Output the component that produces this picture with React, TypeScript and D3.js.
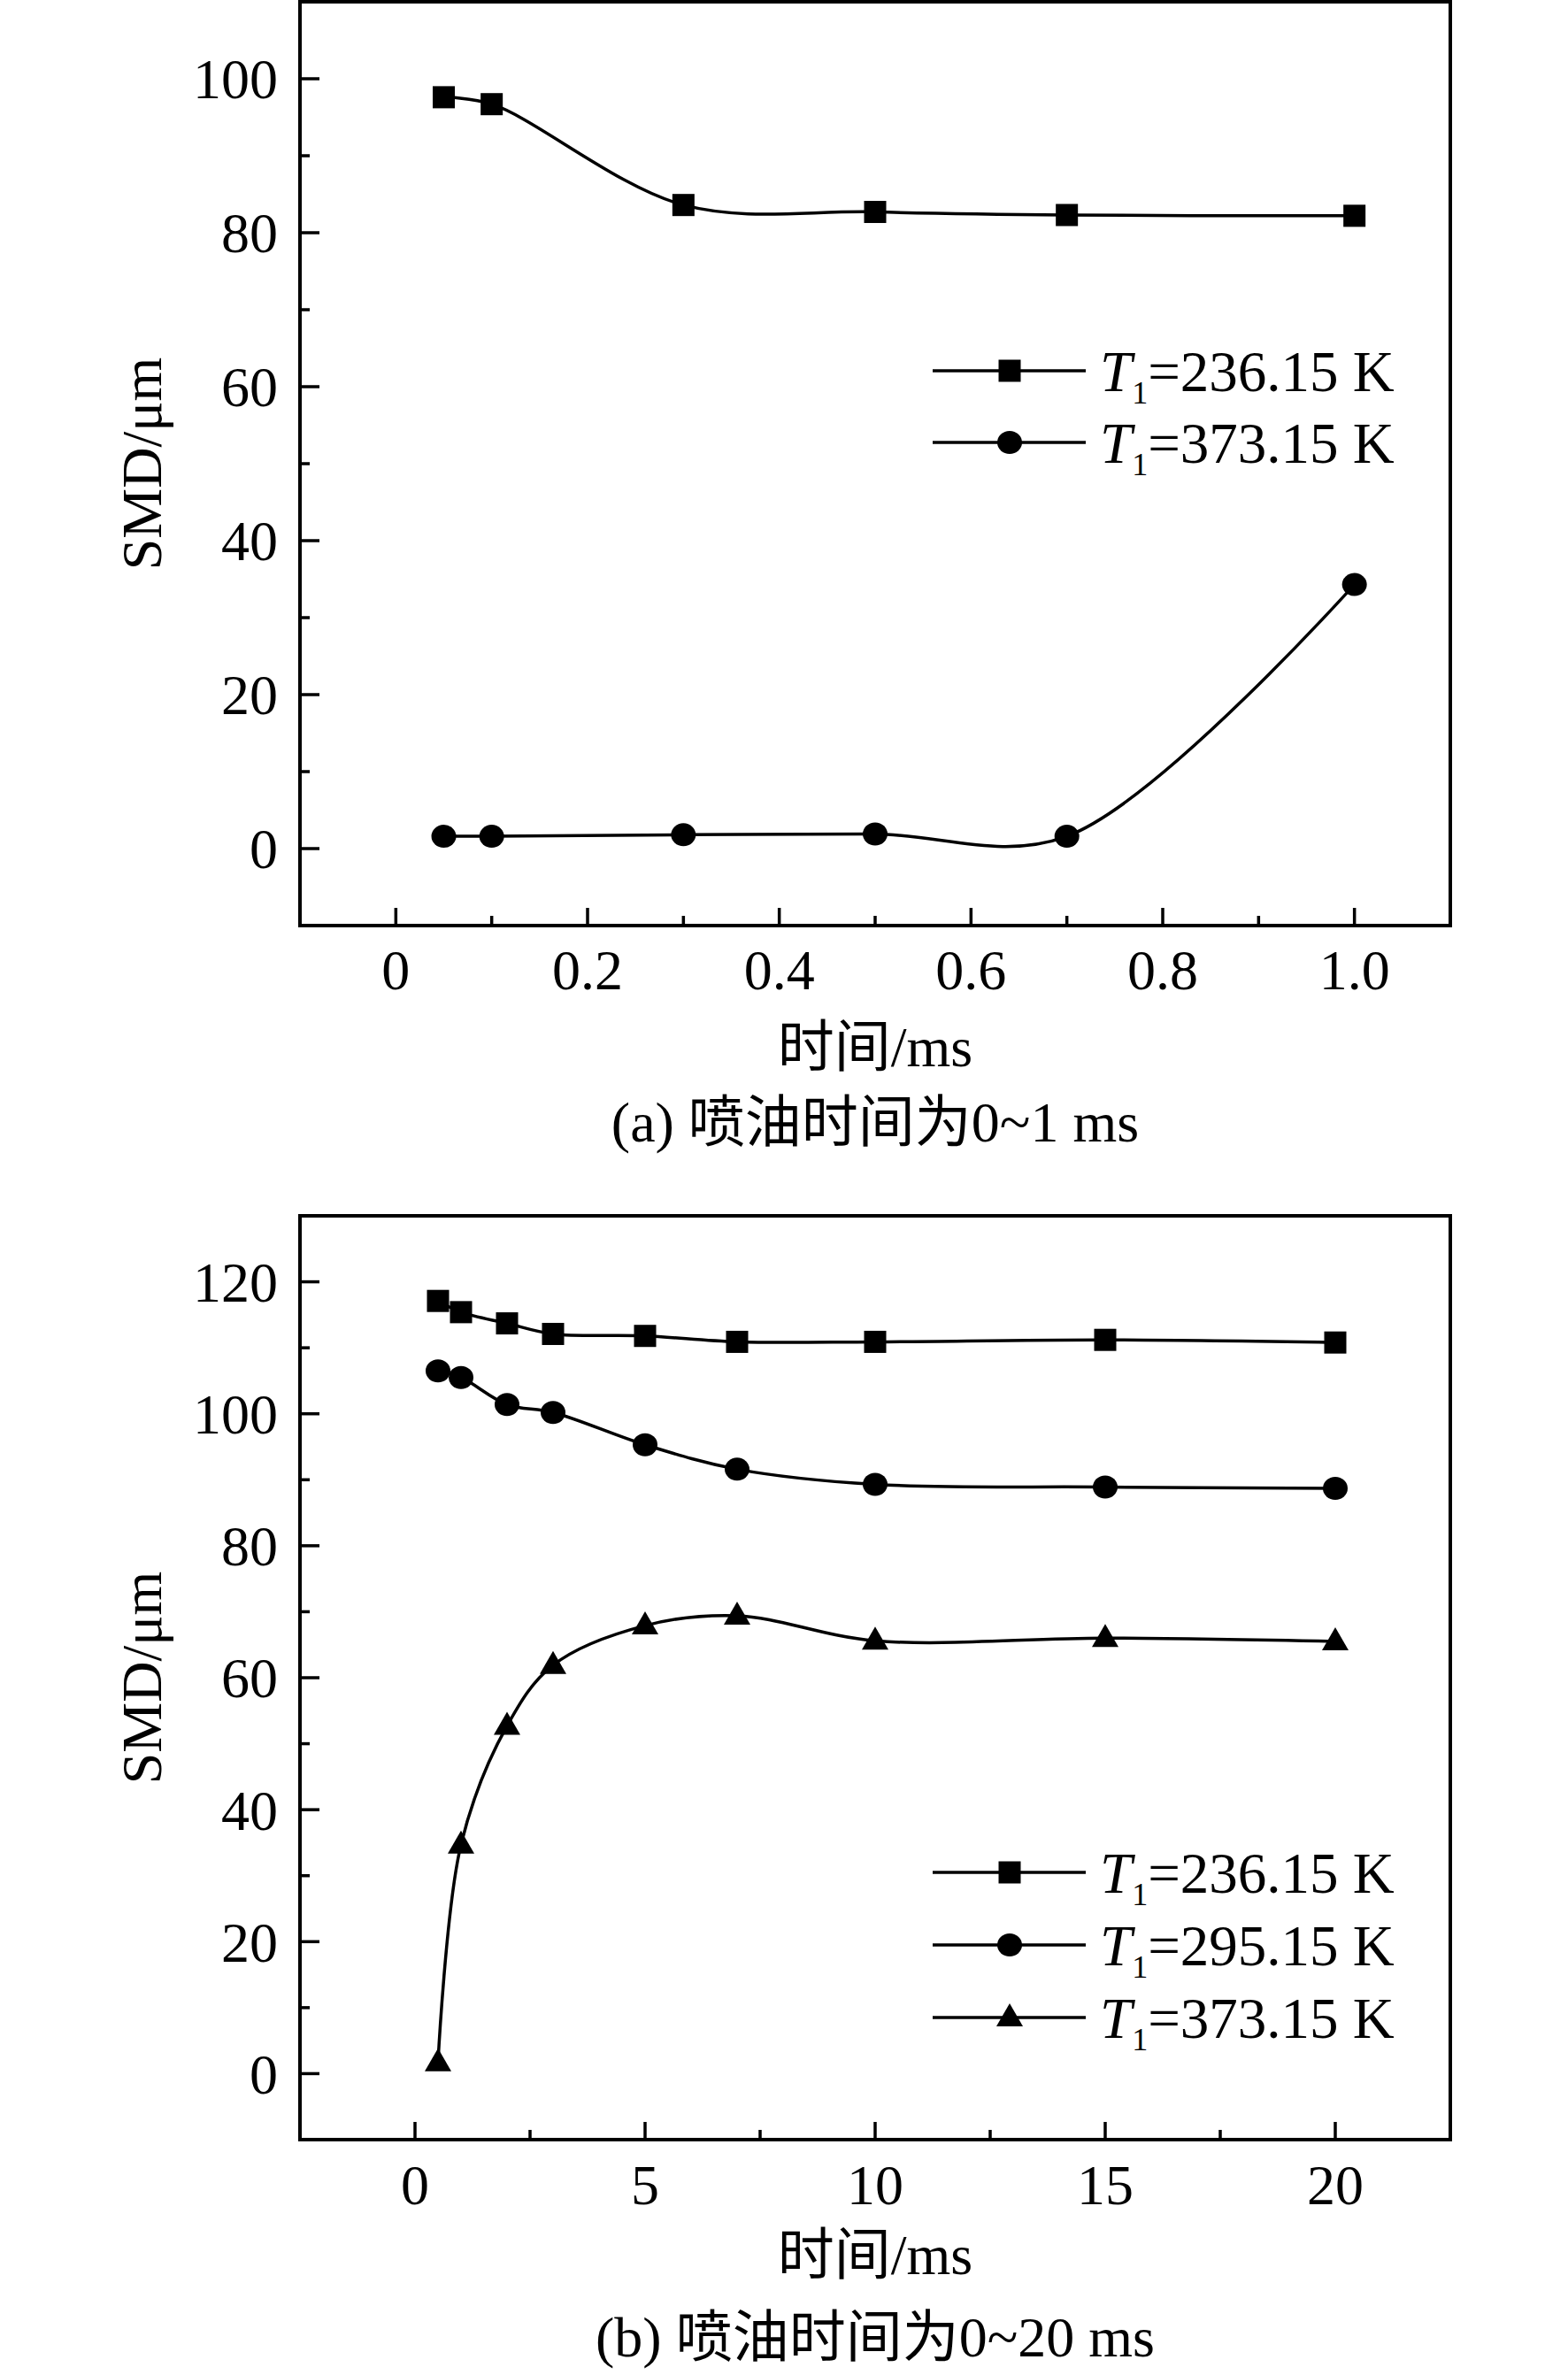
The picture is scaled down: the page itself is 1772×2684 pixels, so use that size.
import React from "react";
import * as d3 from "d3";

// panel (a): injection time 0~1 ms
const X_A = [0.05, 0.1, 0.3, 0.5, 0.7, 1.0];
const A_T236 = [97.6, 96.7, 83.6, 82.7, 82.3, 82.2];
const A_T373 = [1.6, 1.6, 1.8, 1.9, 1.6, 34.3];
const A_X_TICKS = [0, 0.2, 0.4, 0.6, 0.8, 1.0];
const A_X_LABELS = ["0", "0.2", "0.4", "0.6", "0.8", "1.0"];
const A_X_MINOR = [0.1, 0.3, 0.5, 0.7, 0.9];
const A_Y_TICKS = [0, 20, 40, 60, 80, 100];
const A_Y_MINOR = [10, 30, 50, 70, 90];

// panel (b): injection time 0~20 ms
const X_B = [0.5, 1, 2, 3, 5, 7, 10, 15, 20];
const B_T236 = [117.1, 115.4, 113.7, 112.1, 111.8, 110.9, 110.9, 111.2, 110.8];
const B_T295 = [106.5, 105.5, 101.4, 100.2, 95.3, 91.6, 89.3, 88.9, 88.7];
const B_T373 = [1.7, 34.7, 52.7, 61.9, 67.9, 69.4, 65.6, 66.0, 65.5];
const B_X_TICKS = [0, 5, 10, 15, 20];
const B_X_LABELS = ["0", "5", "10", "15", "20"];
const B_X_MINOR = [2.5, 7.5, 12.5, 17.5];
const B_Y_TICKS = [0, 20, 40, 60, 80, 100, 120];
const B_Y_MINOR = [10, 30, 50, 70, 90, 110];

const FONT = "'Liberation Serif', 'Times New Roman', 'Noto Sans CJK SC', serif";
const LEFT = 339;
const RIGHT = 1639;

type Shape = "square" | "circle" | "triangle";

const Marker: React.FC<{ shape: Shape; x: number; y: number }> = ({ shape, x, y }) => {
  if (shape === "square") return <rect x={x - 12.5} y={y - 12.5} width={25} height={25} fill="#000" />;
  if (shape === "circle") return <ellipse cx={x} cy={y} rx={14} ry={13} fill="#000" />;
  return <path d={`M${x},${y - 16}L${x + 15},${y + 10}L${x - 15},${y + 10}Z`} fill="#000" />;
};

interface PanelProps {
  top: number;
  bottom: number;
  xDomain: [number, number];
  yDomain: [number, number];
  xTicks: number[];
  xLabels: string[];
  xMinor: number[];
  yTicks: number[];
  yMinor: number[];
  xs: number[];
  series: { values: number[]; shape: Shape; temp: string }[];
  legendTop: number;
  legendStep: number;
  caption: string;
  tickY: number;
  labelY: number;
  captionY: number;
}

const Panel: React.FC<PanelProps> = (p) => {
  const x = d3.scaleLinear().domain(p.xDomain).range([LEFT, RIGHT]);
  const y = d3.scaleLinear().domain(p.yDomain).range([p.bottom, p.top]);
  const line = d3
    .line<[number, number]>()
    .x((d) => x(d[0]))
    .y((d) => y(d[1]))
    .curve(d3.curveCatmullRom.alpha(0.5));
  const midY = (p.top + p.bottom) / 2;

  return (
    <g>
      {/* curves and markers */}
      {p.series.map((s, i) => {
        const pts = p.xs.map((v, j) => [v, s.values[j]] as [number, number]);
        return (
          <g key={i}>
            <path d={line(pts) || ""} fill="none" stroke="#000" strokeWidth={3.5} />
            {pts.map((d, j) => (
              <Marker key={j} shape={s.shape} x={x(d[0])} y={y(d[1])} />
            ))}
          </g>
        );
      })}

      {/* legend */}
      {p.series.map((s, i) => {
        const ly = p.legendTop + i * p.legendStep;
        return (
          <g key={`lg${i}`}>
            <line x1={1054} x2={1227} y1={ly} y2={ly} stroke="#000" strokeWidth={3.5} />
            <Marker shape={s.shape} x={1141} y={ly} />
            <text x={1243} y={ly + 23} fontFamily={FONT} fontSize={65}>
              <tspan fontStyle="italic">T</tspan>
              <tspan fontSize={36} dy={14}>1</tspan>
              <tspan dy={-14}>{`=${s.temp} K`}</tspan>
            </text>
          </g>
        );
      })}

      {/* frame */}
      <rect
        x={LEFT}
        y={p.top}
        width={RIGHT - LEFT}
        height={p.bottom - p.top}
        fill="none"
        stroke="#000"
        strokeWidth={4}
      />

      {/* y ticks (inward) */}
      {p.yTicks.map((t) => (
        <g key={`yt${t}`}>
          <line x1={LEFT} x2={LEFT + 22} y1={y(t)} y2={y(t)} stroke="#000" strokeWidth={3.5} />
          <text
            x={LEFT - 25}
            y={y(t)}
            dy="0.35em"
            textAnchor="end"
            fontFamily={FONT}
            fontSize={64}
          >
            {t}
          </text>
        </g>
      ))}
      {p.yMinor.map((t) => (
        <line key={`ym${t}`} x1={LEFT} x2={LEFT + 11} y1={y(t)} y2={y(t)} stroke="#000" strokeWidth={3.5} />
      ))}

      {/* x ticks (inward) */}
      {p.xTicks.map((t, i) => (
        <g key={`xt${t}`}>
          <line x1={x(t)} x2={x(t)} y1={p.bottom} y2={p.bottom - 20} stroke="#000" strokeWidth={3.5} />
          <text x={x(t)} y={p.tickY} textAnchor="middle" fontFamily={FONT} fontSize={64}>
            {p.xLabels[i]}
          </text>
        </g>
      ))}
      {p.xMinor.map((t) => (
        <line key={`xm${t}`} x1={x(t)} x2={x(t)} y1={p.bottom} y2={p.bottom - 11} stroke="#000" strokeWidth={3.5} />
      ))}

      {/* axis titles */}
      <text
        transform={`translate(182,${midY}) rotate(-90)`}
        textAnchor="middle"
        fontFamily={FONT}
        fontSize={64}
      >
        SMD/μm
      </text>
      <text x={(LEFT + RIGHT) / 2} y={p.labelY} textAnchor="middle" fontFamily={FONT} fontSize={64}>
        时间/ms
      </text>
      <text x={(LEFT + RIGHT) / 2} y={p.captionY} textAnchor="middle" fontFamily={FONT} fontSize={64}>
        {p.caption}
      </text>
    </g>
  );
};

const App: React.FC = () => {
  return (
    <svg
      width={1772}
      height={2684}
      style={{ position: "absolute", left: 0, top: 0, background: "#fff" }}
    >
      <Panel
        top={2}
        bottom={1046}
        xDomain={[-0.1, 1.1]}
        yDomain={[-10, 110]}
        xTicks={A_X_TICKS}
        xLabels={A_X_LABELS}
        xMinor={A_X_MINOR}
        yTicks={A_Y_TICKS}
        yMinor={A_Y_MINOR}
        xs={X_A}
        series={[
          { values: A_T236, shape: "square", temp: "236.15" },
          { values: A_T373, shape: "circle", temp: "373.15" },
        ]}
        legendTop={419}
        legendStep={81}
        caption="(a) 喷油时间为0~1 ms"
        tickY={1118}
        labelY={1205}
        captionY={1290}
      />
      <Panel
        top={1374}
        bottom={2418}
        xDomain={[-2.5, 22.5]}
        yDomain={[-10, 130]}
        xTicks={B_X_TICKS}
        xLabels={B_X_LABELS}
        xMinor={B_X_MINOR}
        yTicks={B_Y_TICKS}
        yMinor={B_Y_MINOR}
        xs={X_B}
        series={[
          { values: B_T236, shape: "square", temp: "236.15" },
          { values: B_T295, shape: "circle", temp: "295.15" },
          { values: B_T373, shape: "triangle", temp: "373.15" },
        ]}
        legendTop={2116}
        legendStep={82}
        caption="(b) 喷油时间为0~20 ms"
        tickY={2491}
        labelY={2570}
        captionY={2663}
      />
    </svg>
  );
};

export default App;
